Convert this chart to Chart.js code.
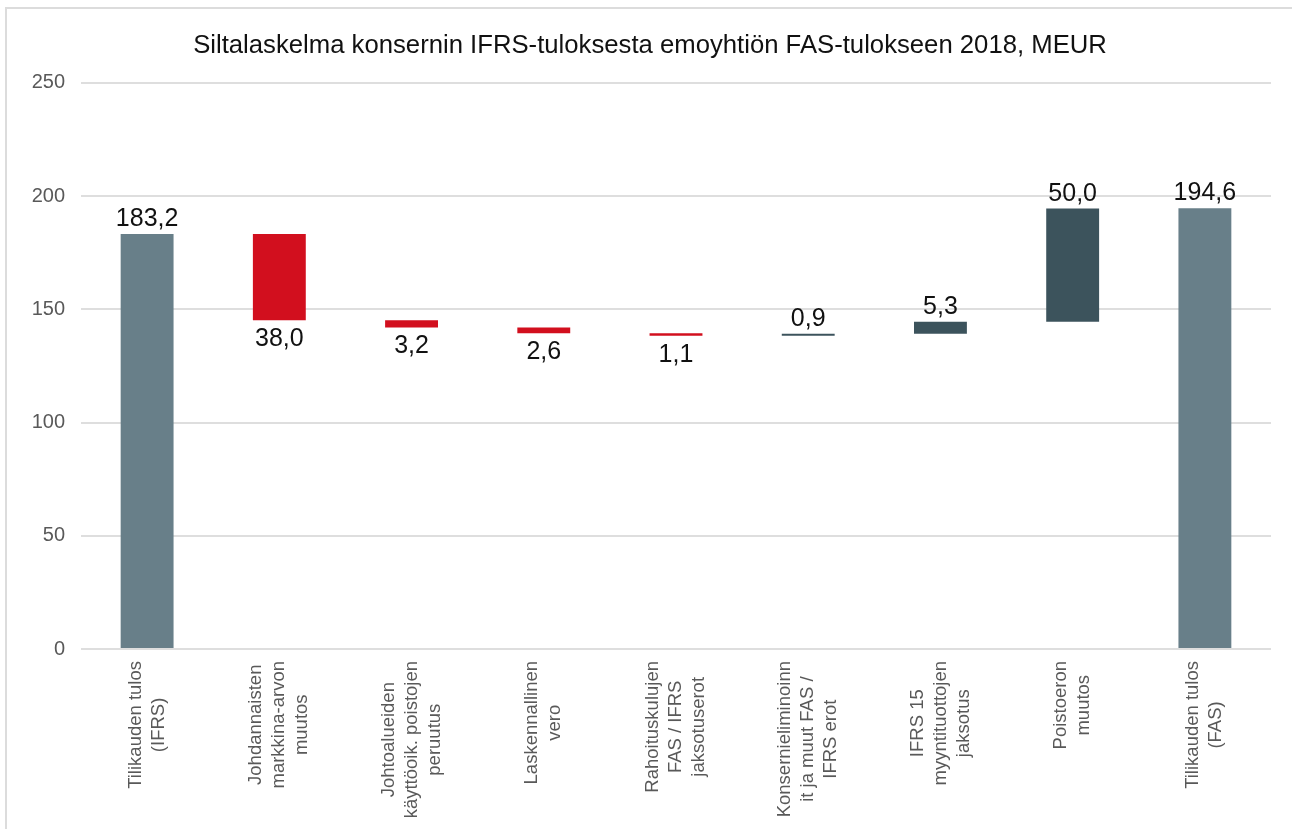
<!DOCTYPE html>
<html lang="fi">
<head>
<meta charset="utf-8">
<title>Siltalaskelma 2018</title>
<script src="https://cdn.jsdelivr.net/npm/chart.js@4/dist/chart.umd.min.js"></script>
<style>
    html, body { margin: 0; padding: 0; background: #fff; }
    .wrap { position: relative; width: 1292px; height: 829px; }
    .frame {
        position: absolute; left: 5px; top: 7px; right: 0; bottom: 0;
        border-left: 2px solid #dcdcdc; border-top: 2px solid #dcdcdc;
        pointer-events: none;
    }
    canvas { position: absolute; left: 0; top: 0; }
</style>
</head>
<body>
<div class="wrap">
    <canvas id="bridgeChart" width="1292" height="829"></canvas>
    <div class="frame"></div>
</div>
<script>
// Bridge steps from IFRS result to parent company FAS result, MEUR
const categories = [
    ['Tilikauden tulos', '(IFRS)'],
    ['Johdannaisten', 'markkina-arvon', 'muutos'],
    ['Johtoalueiden', 'käyttöoik. poistojen', 'peruutus'],
    ['Laskennallinen', 'vero'],
    ['Rahoituskulujen', 'FAS / IFRS', 'jaksotuserot'],
    ['Konsernieliminoinn', 'it ja muut FAS /', 'IFRS erot'],
    ['IFRS 15', 'myyntituottojen', 'jaksotus'],
    ['Poistoeron', 'muutos'],
    ['Tilikauden tulos', '(FAS)']
];
const stepValues = [183.2, -38.0, -3.2, -2.6, -1.1, 0.9, 5.3, 50.0, 194.6];
const stepKinds = ['total', 'change', 'change', 'change', 'change', 'change', 'change', 'change', 'total'];
const yTicks = [0, 50, 100, 150, 200, 250];

const colors = {
    total: '#687f89',
    down: '#d20f1e',
    up: '#3c535c'
};

// Running totals turn the steps into floating [low, high] ranges
const ranges = [];
let running = 0;
stepValues.forEach((v, i) => {
    if (stepKinds[i] === 'total') {
        ranges.push([0, v]);
        running = v;
    } else {
        ranges.push([running, running + v]);
        running += v;
    }
});

const barColors = stepValues.map((v, i) =>
    stepKinds[i] === 'total' ? colors.total : (v < 0 ? colors.down : colors.up));

function formatValue(v) {
    return Math.abs(v).toFixed(1).replace('.', ',');
}

// Value labels above rising bars, below falling ones
const valueLabels = {
    id: 'valueLabels',
    afterDatasetsDraw(chart) {
        const { ctx, scales: { x, y } } = chart;
        ctx.save();
        ctx.font = '25px "Liberation Sans", Arial, sans-serif';
        ctx.fillStyle = '#111';
        ctx.textAlign = 'center';
        ctx.textBaseline = 'alphabetic';
        stepValues.forEach((v, i) => {
            const px = x.getPixelForValue(i);
            const hi = Math.max(ranges[i][0], ranges[i][1]);
            const lo = Math.min(ranges[i][0], ranges[i][1]);
            if (v < 0) {
                ctx.fillText(formatValue(v), px, y.getPixelForValue(lo) + 26);
            } else {
                ctx.fillText(formatValue(v), px, y.getPixelForValue(hi) - 8);
            }
        });
        ctx.restore();
    }
};

// Rotated, centre-aligned multi-line category labels under the axis
const categoryLabels = {
    id: 'categoryLabels',
    afterDraw(chart) {
        const { ctx, chartArea, scales: { x } } = chart;
        const lineH = 23;
        const gap = 12;
        ctx.save();
        ctx.font = '18.5px "Liberation Sans", Arial, sans-serif';
        ctx.fillStyle = '#595959';
        ctx.textAlign = 'center';
        ctx.textBaseline = 'middle';
        categories.forEach((lines, i) => {
            const maxW = Math.max(...lines.map(l => ctx.measureText(l).width));
            ctx.save();
            ctx.translate(x.getPixelForValue(i), chartArea.bottom);
            ctx.rotate(-Math.PI / 2);
            lines.forEach((line, j) => {
                const off = (j - (lines.length - 1) / 2) * lineH;
                ctx.fillText(line, -(gap + maxW / 2), off);
            });
            ctx.restore();
        });
        ctx.restore();
    }
};

new Chart(document.getElementById('bridgeChart'), {
    type: 'bar',
    data: {
        labels: categories.map(c => c.join(' ')),
        datasets: [{
            data: ranges,
            backgroundColor: barColors,
            borderWidth: 0,
            borderSkipped: false,
            barPercentage: 0.4,
            categoryPercentage: 1.0
        }]
    },
    options: {
        responsive: false,
        animation: false,
        layout: {
            padding: { left: 29, right: 21, top: 0, bottom: 180 }
        },
        plugins: {
            legend: { display: false },
            tooltip: { enabled: false },
            title: {
                display: true,
                text: 'Siltalaskelma konsernin IFRS-tuloksesta emoyhtiön FAS-tulokseen 2018, MEUR',
                color: '#111',
                font: { family: '"Liberation Sans", Arial, sans-serif', size: 25.7, weight: 'normal' },
                padding: { top: 30, bottom: 22 }
            }
        },
        scales: {
            x: {
                display: false
            },
            y: {
                min: 0,
                max: 250,
                afterBuildTicks(scale) {
                    scale.ticks = yTicks.map(v => ({ value: v }));
                },
                afterFit(scale) {
                    scale.width = 52;
                },
                border: { display: false },
                grid: {
                    color: '#dedede',
                    lineWidth: 2,
                    drawTicks: false
                },
                ticks: {
                    padding: 16,
                    color: '#595959',
                    font: { family: '"Liberation Sans", Arial, sans-serif', size: 20 }
                }
            }
        }
    },
    plugins: [valueLabels, categoryLabels]
});
</script>
</body>
</html>
